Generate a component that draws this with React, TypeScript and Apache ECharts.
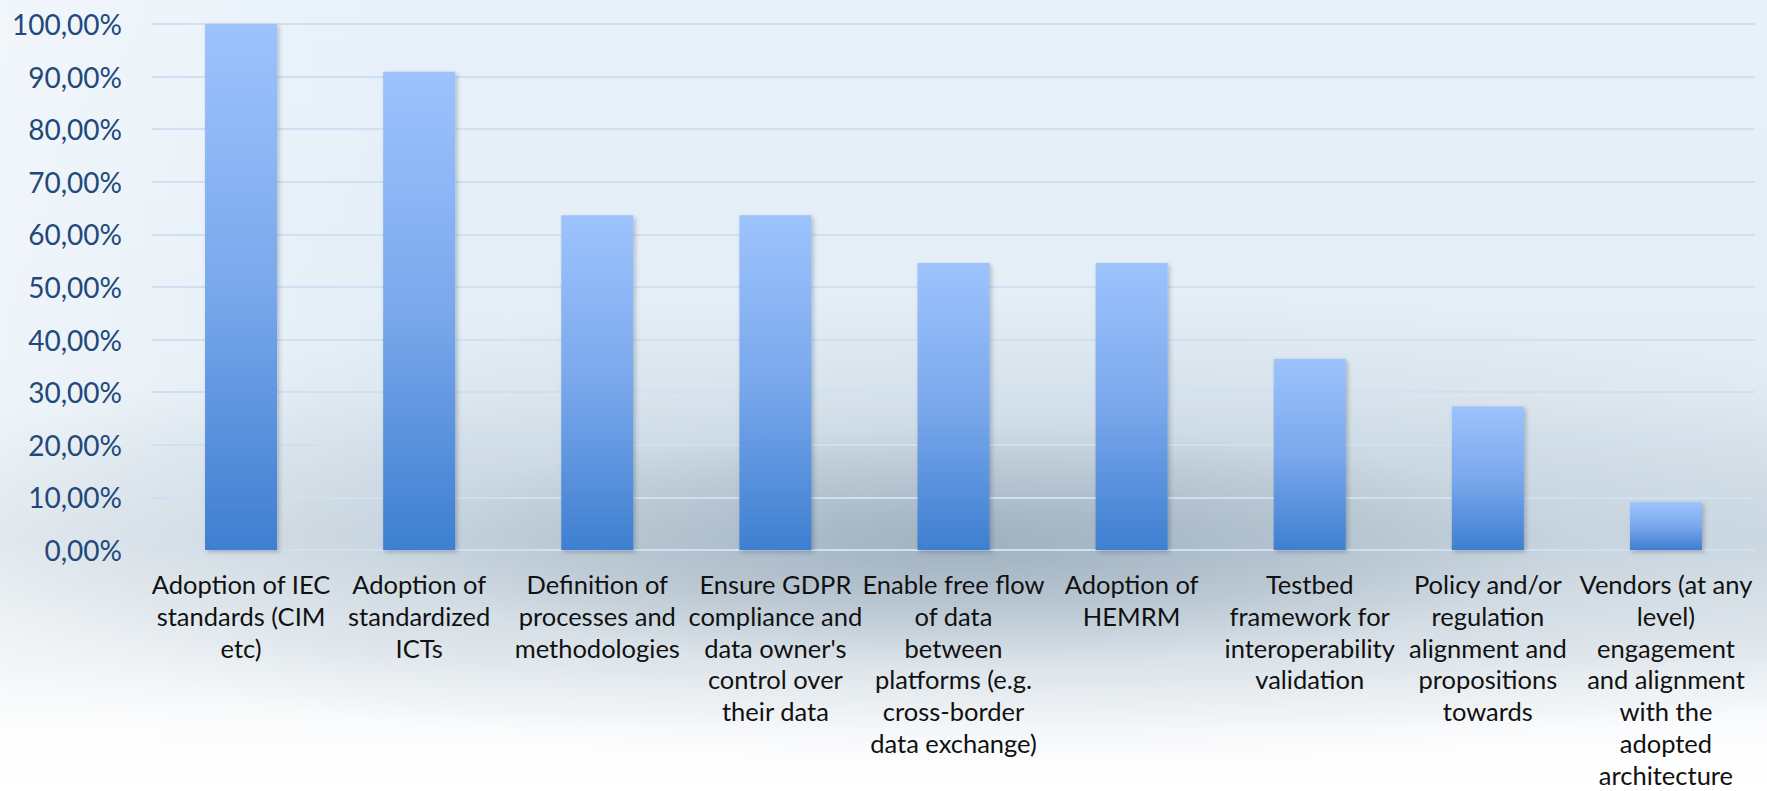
import React, { useEffect, useRef } from "react";
import * as echarts from "echarts";

// Survey categories (already broken into lines as they appear under the bars)
const categories: string[] = [
  "Adoption of IEC\nstandards (CIM\netc)",
  "Adoption of\nstandardized\nICTs",
  "Definition of\nprocesses and\nmethodologies",
  "Ensure GDPR\ncompliance and\ndata owner's\ncontrol over\ntheir data",
  "Enable free flow\nof data\nbetween\nplatforms (e.g.\ncross-border\ndata exchange)",
  "Adoption of\nHEMRM",
  "Testbed\nframework for\ninteroperability\nvalidation",
  "Policy and/or\nregulation\nalignment and\npropositions\ntowards",
  "Vendors (at any\nlevel)\nengagement\nand alignment\nwith the\nadopted\narchitecture",
];

// Share of respondents (%)
const shares: number[] = [100, 90.91, 63.64, 63.64, 54.55, 54.55, 36.36, 27.27, 9.09];

// Value axis ticks
const yMin = 0;
const yMax = 100;
const yStep = 10;

const fmtPercent = (v: number) => v.toFixed(2).replace(".", ",") + "%";

export default function App() {
  const ref = useRef<HTMLDivElement>(null);

  useEffect(() => {
    document.body.style.margin = "0";
    if (!ref.current) return;
    const chart = echarts.init(ref.current, undefined, { renderer: "svg" });
    chart.setOption({
      animation: false,
      backgroundColor: "transparent",
      grid: {
        left: 152,
        right: 12,
        top: 24,
        bottom: 241,
        containLabel: false,
        // keep the plot area fixed even though the tallest label reaches the bottom edge
        outerBoundsMode: "none",
      },
      xAxis: {
        type: "category",
        data: categories,
        axisLine: { show: true, lineStyle: { color: "#cfe0f3", width: 2 } },
        axisTick: { show: false },
        axisLabel: {
          interval: 0,
          margin: 18,
          color: "#111111",
          fontFamily: "Lato",
          fontSize: 25.5,
          lineHeight: 31.8,
          verticalAlign: "top",
        },
      },
      yAxis: {
        type: "value",
        min: yMin,
        max: yMax,
        interval: yStep,
        axisLine: { show: false },
        axisTick: { show: false },
        splitLine: { lineStyle: { color: "#cfe0f3", width: 2 } },
        axisLabel: {
          margin: 30,
          color: "#22497a",
          fontFamily: "Lato",
          fontSize: 28,
          formatter: (v: number) => fmtPercent(v),
        },
      },
      series: [
        {
          type: "bar",
          data: shares,
          barWidth: 72,
          itemStyle: {
            color: new echarts.graphic.LinearGradient(0, 0, 0, 1, [
              { offset: 0, color: "#9dc3fd" },
              { offset: 0.5, color: "#7aa8ec" },
              { offset: 1, color: "#3e7fd0" },
            ]),
            shadowColor: "rgba(40,50,70,0.28)",
            shadowBlur: 4,
            shadowOffsetX: 2,
            shadowOffsetY: 2,
          },
        },
      ],
    });
    return () => chart.dispose();
  }, []);

  return (
    <div
      ref={ref}
      style={{
        width: 1767,
        height: 791,
        background: [
          "radial-gradient(ellipse 34% 15% at 55% 69%, rgba(135,155,172,0.55), rgba(135,155,172,0) 100%)",
          "radial-gradient(ellipse 64% 30% at 58% 67%, rgba(165,183,198,0.5), rgba(165,183,198,0) 100%)",
          "linear-gradient(to right, rgba(255,255,255,0.4) 0%, rgba(255,255,255,0) 22%)",
          "linear-gradient(to bottom, #e8f1f9 0%, #e3edf5 50%, #d3dee6 68%, #e7edf1 82%, #fbfcfd 92%, #ffffff 100%)",
        ].join(", "),
      }}
    />
  );
}
